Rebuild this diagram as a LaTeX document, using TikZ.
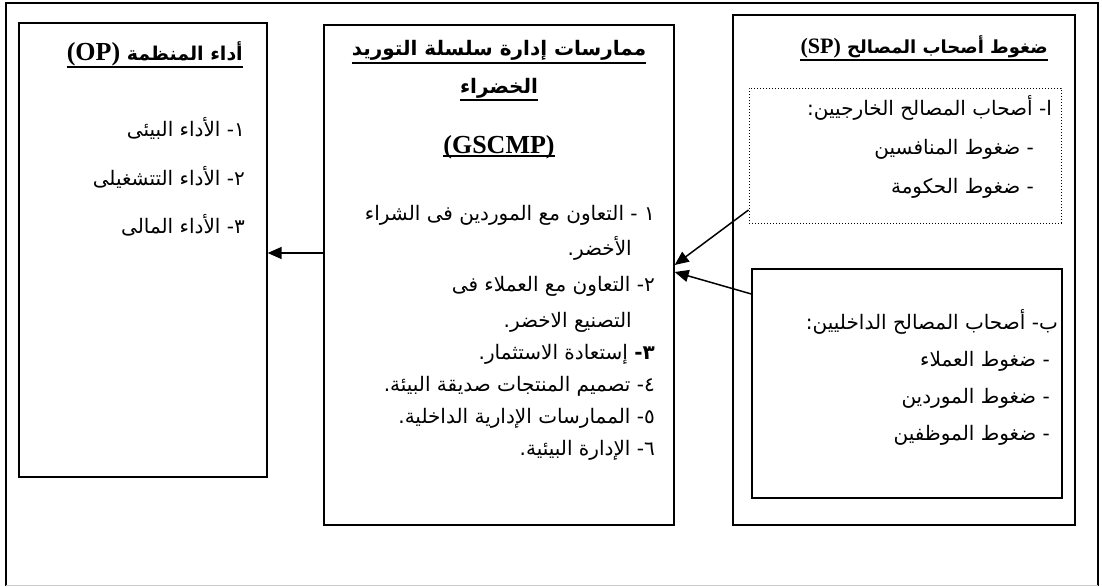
\documentclass[tikz,border=0pt]{standalone}
\usepackage{fontspec}
\setmainfont{DejaVu Sans}
\newfontfamily\arf[Script=Arabic]{DejaVu Sans}
\newfontfamily\latf{Liberation Serif}
\TeXXeTstate=1
\usetikzlibrary{arrows.meta}
\tikzset{
  bx/.style={draw=black, line width=1.3pt, inner sep=0pt},
  dotbx/.style={draw=black, line width=1pt, dotted, inner sep=0pt},
  tx/.style={inner sep=0pt, anchor=base east, font=\arf\fontsize{20}{24}\selectfont},
  tt/.style={inner sep=0pt, anchor=base, font=\arf\bfseries\fontsize{20}{24}\selectfont},
  ul/.style={line width=1.6pt},
  arr/.style={line width=1.5pt, -{Triangle[length=14pt,width=12pt]}},
}
\newcommand{\latb}{\latf\bfseries\fontsize{26}{30}\selectfont}
\newcommand{\latc}{\latf\bfseries\fontsize{22}{26}\selectfont}
\begin{document}
\begin{tikzpicture}[x=1pt,y=-1pt]
\useasboundingbox (0,0) rectangle (1102,586);
\draw[line width=2pt] (6,586) -- (6,3) -- (1098,3) -- (1098,586);
\draw[gray!40, line width=1pt] (6,585) -- (1098,585);

% boxes
\node[bx, minimum width=248pt, minimum height=454pt] (op) at (143,250) {};
\node[bx, minimum width=350pt, minimum height=500pt] (mid) at (499,275) {};
\node[bx, minimum width=342pt, minimum height=510pt] (sp) at (904,270) {};
\node[dotbx, minimum width=312pt, minimum height=135pt] (ext) at (905,155.5) {};
\node[bx, minimum width=310pt, minimum height=229pt] (int) at (907,383.5) {};

% left box text
\node[tt, anchor=base east, font=\arf\bfseries\fontsize{19}{23}\selectfont] (opT) at (243,60) {\beginR أداء المنظمة {\latb\beginL(OP)\endL}\endR};
\draw[ul] ([yshift=-7pt]opT.base west) -- ([yshift=-7pt]opT.base east);
\node[tx] (op1) at (245,136) {\beginR ١- الأداء البيئى\endR};
\node[tx] (op2) at (245,185) {\beginR ٢- الأداء التتشغيلى\endR};
\node[tx] (op3) at (245,233) {\beginR ٣- الأداء المالى\endR};

% middle box text
\node[tt] (mT1) at (499,56) {\beginR ممارسات إدارة سلسلة التوريد\endR};
\draw[ul] ([yshift=-7pt]mT1.base west) -- ([yshift=-7pt]mT1.base east);
\node[tt] (mT2) at (499,93) {\beginR الخضراء\endR};
\draw[ul] ([yshift=-7pt]mT2.base west) -- ([yshift=-7pt]mT2.base east);
\node[tt, font=\latb] (mT3) at (499,153) {(GSCMP)};
\draw[ul] ([yshift=-3pt]mT3.base west) -- ([yshift=-3pt]mT3.base east);
\node[tx] (m1) at (655,220) {\beginR ١ - التعاون مع الموردين فى الشراء\endR};
\node[tx] (m1b) at (632,255) {\beginR الأخضر.\endR};
\node[tx] (m2) at (655,291) {\beginR ٢- التعاون مع العملاء فى\endR};
\node[tx] (m2b) at (632,327) {\beginR التصنيع الاخضر.\endR};
\node[tx] (m3) at (655,359) {\beginR{\bfseries ٣-} إستعادة الاستثمار.\endR};
\node[tx] (m4) at (655,391) {\beginR ٤- تصميم المنتجات صديقة  البيئة.\endR};
\node[tx] (m5) at (655,423) {\beginR ٥- الممارسات الإدارية الداخلية.\endR};
\node[tx] (m6) at (655,455) {\beginR ٦- الإدارة البيئية.\endR};

% right box text
\node[tt, anchor=base east, font=\arf\bfseries\fontsize{18}{22}\selectfont] (spT) at (1048,53) {\beginR ضغوط أصحاب المصالح {\latc\beginL(SP)\endL}\endR};
\draw[ul] ([yshift=-7pt]spT.base west) -- ([yshift=-7pt]spT.base east);
\node[tx] (e0) at (1052,115) {\beginR ا- أصحاب المصالح الخارجيين:\endR};
\node[tx] (e1) at (1034,154) {\beginR - ضغوط المنافسين\endR};
\node[tx] (e2) at (1034,193) {\beginR - ضغوط الحكومة\endR};
\node[tx] (i0) at (1058,329) {\beginR ب- أصحاب المصالح الداخليين:\endR};
\node[tx] (i1) at (1050,366) {\beginR - ضغوط العملاء\endR};
\node[tx] (i2) at (1050,403) {\beginR - ضغوط الموردين\endR};
\node[tx] (i3) at (1050,440) {\beginR - ضغوط الموظفين\endR};

% connectors
\coordinate (yL) at (0,253);
\coordinate (yE) at (0,210);
\coordinate (yEt) at (0,265);
\coordinate (yI) at (0,294);
\coordinate (yIt) at (0,272);
\draw[arr] (mid.west |- yL) -- (op.east |- yL);
\draw[arr] (ext.west |- yE) -- (mid.east |- yEt);
\draw[arr] (int.west |- yI) -- (mid.east |- yIt);
\end{tikzpicture}
\end{document}
